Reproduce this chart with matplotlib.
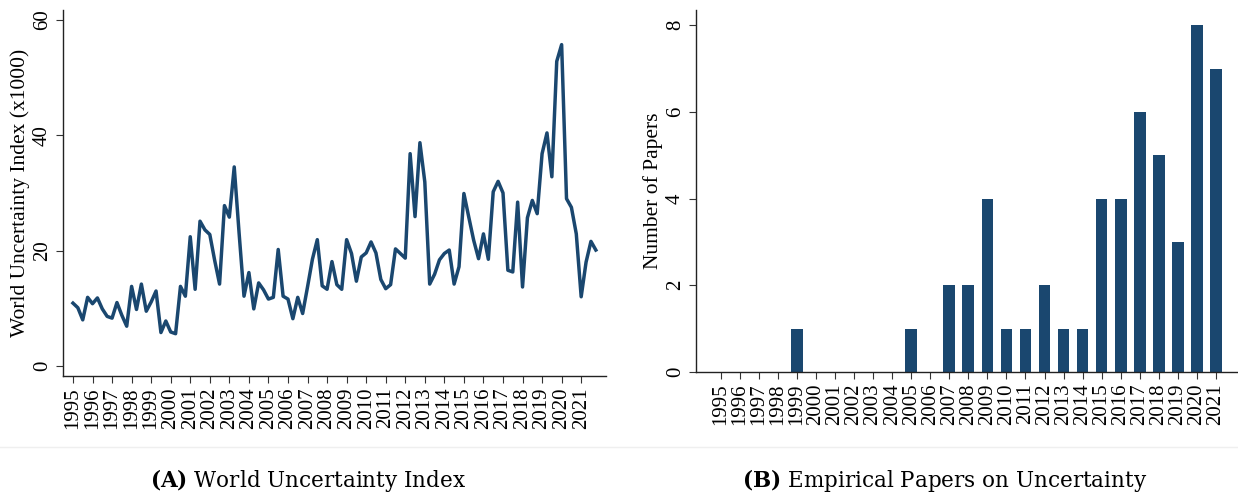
import matplotlib
matplotlib.use("Agg")
import matplotlib.pyplot as plt
import numpy as np

# World Uncertainty Index (x1000), quarterly 1995Q1 - 2021Q4
wui = [
    10.9, 10.1, 8.0, 11.9,   # 1995
    10.8, 11.8, 9.9, 8.6,    # 1996
    8.3, 11.0, 8.8, 6.9,     # 1997
    13.8, 9.8, 14.2, 9.5,    # 1998
    11.1, 13.0, 5.8, 7.8,    # 1999
    5.9, 5.6, 13.8, 12.1,    # 2000
    22.4, 13.3, 25.1, 23.6,  # 2001
    22.8, 18.3, 14.2, 27.8,  # 2002
    25.8, 34.5, 23.0, 12.1,  # 2003
    16.2, 9.9, 14.4, 13.2,   # 2004
    11.6, 11.9, 20.2, 12.1,  # 2005
    11.6, 8.2, 11.9, 9.1,    # 2006
    13.7, 18.5, 21.9, 13.9,  # 2007
    13.3, 18.1, 14.1, 13.3,  # 2008
    21.9, 19.5, 14.7, 18.9,  # 2009
    19.6, 21.5, 19.6, 15.0,  # 2010
    13.4, 14.1, 20.3, 19.5,  # 2011
    18.7, 36.8, 25.9, 38.7,  # 2012
    31.9, 14.2, 15.9, 18.4,  # 2013
    19.5, 20.1, 14.2, 17.2,  # 2014
    29.9, 25.8, 21.8, 18.6,  # 2015
    22.9, 18.5, 30.2, 32.0,  # 2016
    30.0, 16.6, 16.3, 28.4,  # 2017
    13.7, 25.7, 28.7, 26.4,  # 2018
    36.8, 40.4, 32.8, 52.8,  # 2019
    55.7, 29.0, 27.5, 22.9,  # 2020
    12.0, 18.0, 21.6, 20.1,  # 2021
]
quarters = 1995 + np.arange(len(wui)) / 4

years = list(range(1995, 2022))
papers = [0, 0, 0, 0, 1, 0, 0, 0, 0, 0, 1, 0, 2, 2, 4,
          1, 1, 2, 1, 1, 4, 4, 6, 5, 3, 8, 7]

navy = "#1a476f"
W, H = 1238, 495
plt.rcParams["font.family"] = ["Liberation Serif", "DejaVu Serif"]
plt.rcParams["mathtext.fontset"] = "custom"
plt.rcParams["mathtext.bf"] = "DejaVu Serif:bold"
plt.rcParams["mathtext.rm"] = "DejaVu Serif"

fig = plt.figure(figsize=(W / 100, H / 100), dpi=100)


def frame(ax):
    for s in ["top", "right"]:
        ax.spines[s].set_visible(False)
    for s in ["left", "bottom"]:
        ax.spines[s].set_color("#222222")
        ax.spines[s].set_linewidth(1.0)
    ax.tick_params(axis="both", length=5, width=0.8, color="#333333",
                   labelsize=15, pad=3)
    ax.tick_params(axis="x", labelrotation=90)
    for lab in ax.get_yticklabels():
        lab.set_rotation(90)
        lab.set_va("center")


# (A) World Uncertainty Index
ax1 = fig.add_axes([63 / W, (H - 376) / H, (606 - 63) / W, (376 - 10) / H])
ax1.plot(quarters, wui, color=navy, lw=2.5, solid_joinstyle="round")
ax1.set_xlim(1995 - 0.51, 2022.27)
ax1.set_ylim(-1.73, 61.7)
ax1.set_xticks(years)
ax1.set_xticklabels([str(y) for y in years])
ax1.set_yticks([0, 20, 40, 60])
ax1.set_ylabel("World Uncertainty Index (x1000)", fontsize=15.5)
ax1.yaxis.set_label_coords(-0.061, 0.5)
frame(ax1)

# (B) Empirical papers
ax2 = fig.add_axes([696 / W, (H - 372) / H, (W - 696) / W, (372 - 10) / H])
ax2.bar(years, papers, width=0.615, color=navy)
ax2.set_xlim(1993.7, 2022.16)
ax2.set_ylim(0, 8.35)
ax2.set_xticks(years)
ax2.set_xticklabels([str(y) for y in years])
ax2.set_yticks([0, 2, 4, 6, 8])
ax2.set_ylabel("Number of Papers", fontsize=15.5)
ax2.yaxis.set_label_coords(-0.061, 0.5)
frame(ax2)

# separator and captions
fig.add_artist(plt.Line2D([0, 1], [(H - 447) / H] * 2, color="#efefef", lw=1))
fig.text(308 / W, (H - 480) / H, r"$\mathbf{(A)}$ World Uncertainty Index",
         ha="center", va="center", fontsize=15.5, family="DejaVu Serif")
fig.text(945 / W, (H - 480) / H, r"$\mathbf{(B)}$ Empirical Papers on Uncertainty",
         ha="center", va="center", fontsize=15.5, family="DejaVu Serif")

fig.savefig("out.png", dpi=100)
